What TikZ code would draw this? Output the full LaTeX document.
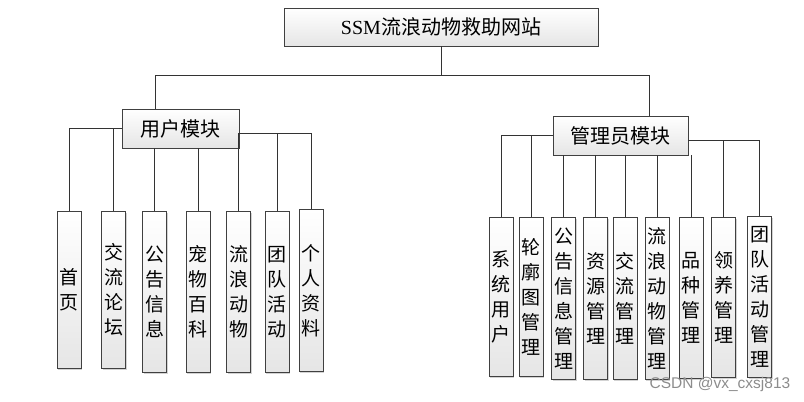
\documentclass[tikz,border=0pt]{standalone}
\usepackage{fontspec}
\setmainfont{Liberation Serif}
\newfontfamily\cjk{Noto Sans CJK SC}
\usetikzlibrary{shadows}

\begin{document}
\begin{tikzpicture}[x=1pt, y=-1pt,
    box/.style={draw=black!75, line width=0.8pt, top color=white, bottom color=black!10,
        drop shadow={shadow xshift=1.2pt, shadow yshift=-1.2pt, opacity=0.35}, inner sep=0pt},
    leaf/.style={box, anchor=north, minimum width=24pt, align=center,
        font=\cjk\fontsize{19}{25}\selectfont},
    link/.style={draw=black!80, line width=0.9pt}]
    \useasboundingbox (0,0) rectangle (804,402);

    % root and modules
    \node[box, minimum width=314pt, minimum height=38pt, font=\fontsize{20}{24}\selectfont] (site) at (441,27) {SSM{\cjk 流浪动物救助网站}};
    \node[box, minimum width=117pt, minimum height=39pt, font=\cjk\fontsize{20}{24}\selectfont] (user) at (180.5,128.5) {用户模块};
    \node[box, minimum width=135pt, minimum height=39pt, font=\cjk\fontsize{20}{24}\selectfont] (admin) at (620.5,135.5) {管理员模块};

    % user leaves
    \node[leaf, minimum height=157pt] (home) at (69,211) {首\\页};
    \node[leaf, minimum height=157pt] (forum) at (113.5,211) {交\\流\\论\\坛};
    \node[leaf, minimum height=161pt] (notice) at (154.5,211) {公\\告\\信\\息};
    \node[leaf, minimum height=161pt] (wiki) at (198,211) {宠\\物\\百\\科};
    \node[leaf, minimum height=161pt] (stray) at (238.5,211) {流\\浪\\动\\物};
    \node[leaf, minimum height=161pt] (team) at (277,211) {团\\队\\活\\动};
    \node[leaf, minimum height=162pt] (profile) at (311,209) {个\\人\\资\\料};

    % admin leaves
    \node[leaf, minimum height=159pt] (sysuser) at (501,217) {系\\统\\用\\户};
    \node[leaf, minimum height=159pt] (outline) at (531,217) {轮\\廓\\图\\管\\理};
    \node[leaf, minimum height=162pt] (notices) at (563.5,217) {公\\告\\信\\息\\管\\理};
    \node[leaf, minimum height=162pt] (resource) at (595.5,217) {资\\源\\管\\理};
    \node[leaf, minimum height=162pt] (exchange) at (625,217) {交\\流\\管\\理};
    \node[leaf, minimum height=162pt] (strays) at (657,217) {流\\浪\\动\\物\\管\\理};
    \node[leaf, minimum height=161pt] (breed) at (691,217) {品\\种\\管\\理};
    \node[leaf, minimum height=160pt] (adopt) at (723.5,217) {领\\养\\管\\理};
    \node[leaf, minimum height=161pt] (teams) at (759.5,216) {团\\队\\活\\动\\管\\理};

    % connectors
    \coordinate (fork) at (441,75);
    \draw[link] (site.south) -- (fork) -| ([xshift=-25.5pt]user.north);
    \draw[link] (fork) -| ([xshift=28.5pt]admin.north);

    \draw[link] (user.west) -| (home.north);
    \draw[link] (user.west) -| (forum.north);
    \draw[link] (notice.north) -- (notice.north |- user.south);
    \draw[link] (wiki.north) -- (wiki.north |- user.south);
    \draw[link] ([yshift=-4.5pt]user.east) -| (stray.north);
    \draw[link] ([yshift=-4.5pt]user.east) -| (team.north);
    \draw[link] ([yshift=-4.5pt]user.east) -| (profile.north);

    \draw[link] (admin.west) -| (sysuser.north);
    \draw[link] (admin.west) -| (outline.north);
    \draw[link] (notices.north) -- (notices.north |- admin.south);
    \draw[link] (resource.north) -- (resource.north |- admin.south);
    \draw[link] (exchange.north) -- (exchange.north |- admin.south);
    \draw[link] (strays.north) -- (strays.north |- admin.south);
    \draw[link] (breed.north) -- (breed.north |- admin.south);
    \draw[link] ([yshift=-4.5pt]admin.east) -| (adopt.north);
    \draw[link] ([yshift=-4.5pt]admin.east) -| (teams.north);

    % watermark
    \node[text=black!45, font=\fontspec{Liberation Sans}\fontsize{15.5}{18}\selectfont] (mark) at (720,384) {CSDN @vx\_cxsj813};
\end{tikzpicture}
\end{document}
